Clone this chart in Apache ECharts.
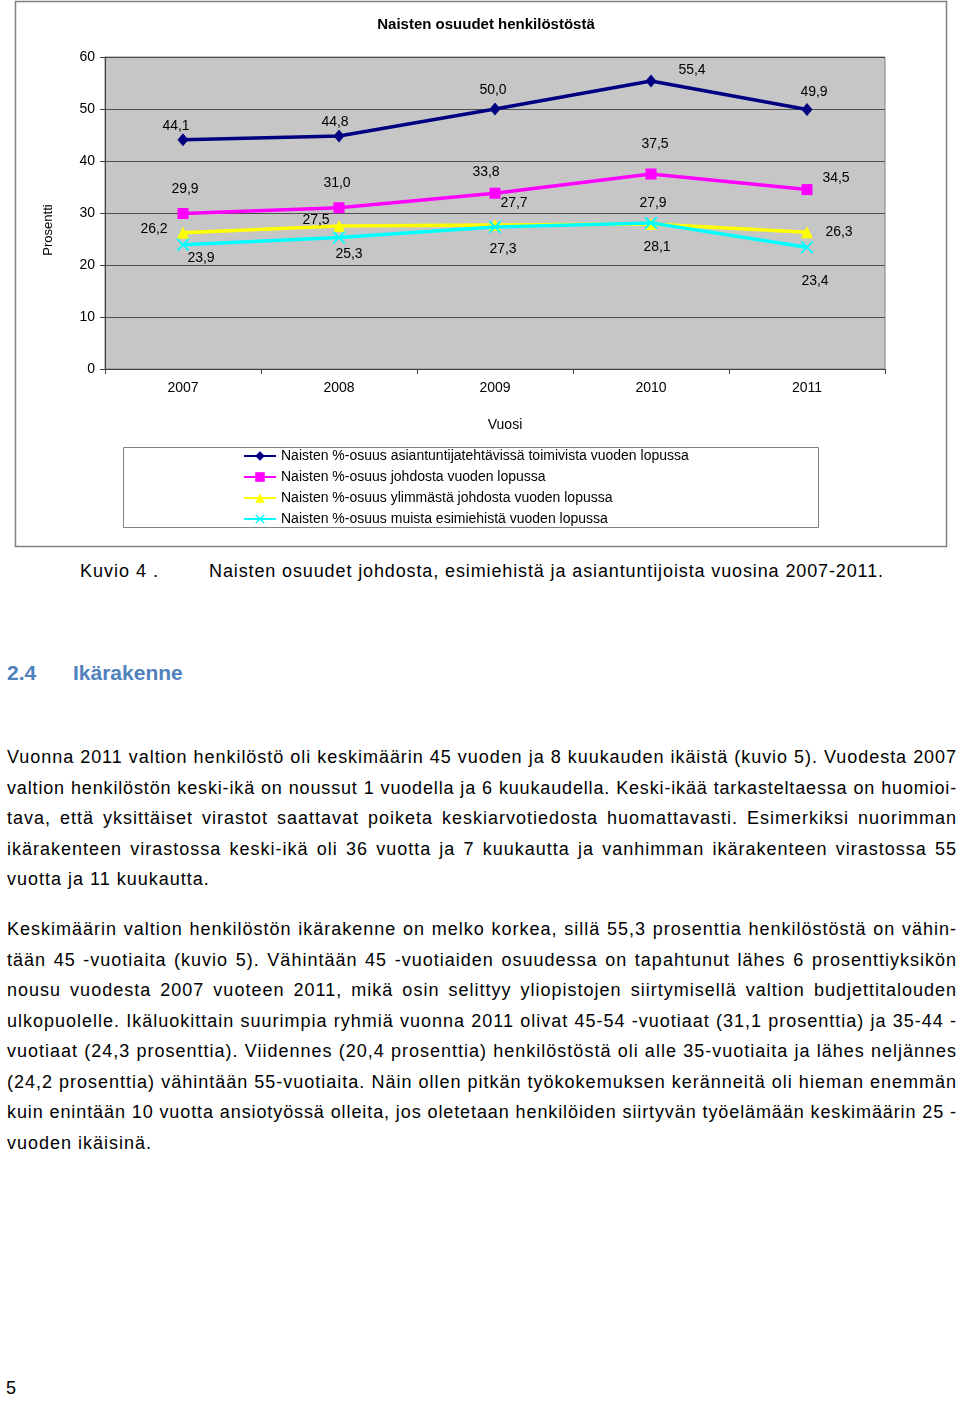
<!DOCTYPE html>
<html>
<head>
<meta charset="utf-8">
<script src="https://cdn.jsdelivr.net/npm/echarts@6/dist/echarts.min.js"></script>
<style>
  html, body { margin: 0; padding: 0; background: #fff; }
  body { width: 960px; height: 1403px; position: relative; overflow: hidden;
         font-family: "Liberation Sans", Arial, sans-serif; color: #000; }
  #chart { position: absolute; left: 0; top: 0; width: 960px; height: 550px; }
  .t { position: absolute; font-size: 18px; line-height: 30px; letter-spacing: 1px; white-space: nowrap; }
  .j { position: absolute; left: 7px; width: 950px; font-size: 18px; line-height: 30px;
       letter-spacing: 1px; text-align: justify; text-align-last: justify; }
  .h { position: absolute; font-size: 21px; font-weight: bold; color: #4F81BD; line-height: 30px; }
</style>
</head>
<body>
<div id="chart"></div>

<div class="t" style="left:80px; top:556px;">Kuvio 4 .</div>
<div class="t" style="left:209px; top:556px; letter-spacing:0.88px;">Naisten osuudet johdosta, esimiehistä ja asiantuntijoista vuosina 2007-2011.</div>

<div class="h" style="left:7px; top:658px;">2.4</div>
<div class="h" style="left:73px; top:658px;">Ikärakenne</div>

<div class="j" style="top:742px;">Vuonna 2011 valtion henkilöstö oli keskimäärin 45 vuoden ja 8 kuukauden ikäistä (kuvio 5). Vuodesta 2007</div>
<div class="j" style="top:773px;">valtion henkilöstön keski-ikä on noussut 1 vuodella ja 6 kuukaudella. Keski-ikää tarkasteltaessa on huomioi-</div>
<div class="j" style="top:803px;">tava, että yksittäiset virastot saattavat poiketa keskiarvotiedosta huomattavasti. Esimerkiksi nuorimman</div>
<div class="j" style="top:834px;">ikärakenteen virastossa keski-ikä oli 36 vuotta ja 7 kuukautta ja vanhimman ikärakenteen virastossa 55</div>
<div class="t" style="left:7px; top:864px;">vuotta ja 11 kuukautta.</div>

<div class="j" style="top:914px;">Keskimäärin valtion henkilöstön ikärakenne on melko korkea, sillä 55,3 prosenttia henkilöstöstä on vähin-</div>
<div class="j" style="top:945px;">tään 45 -vuotiaita (kuvio 5). Vähintään 45 -vuotiaiden osuudessa on tapahtunut lähes 6 prosenttiyksikön</div>
<div class="j" style="top:975px;">nousu vuodesta 2007 vuoteen 2011, mikä osin selittyy yliopistojen siirtymisellä valtion budjettitalouden</div>
<div class="j" style="top:1006px;">ulkopuolelle. Ikäluokittain suurimpia ryhmiä vuonna 2011 olivat 45-54 -vuotiaat (31,1 prosenttia) ja 35-44 -</div>
<div class="j" style="top:1036px;">vuotiaat (24,3 prosenttia). Viidennes (20,4 prosenttia) henkilöstöstä oli alle 35-vuotiaita ja lähes neljännes</div>
<div class="j" style="top:1067px;">(24,2 prosenttia) vähintään 55-vuotiaita. Näin ollen pitkän työkokemuksen keränneitä oli hieman enemmän</div>
<div class="j" style="top:1097px;">kuin enintään 10 vuotta ansiotyössä olleita, jos oletetaan henkilöiden siirtyvän työelämään keskimäärin 25 -</div>
<div class="t" style="left:7px; top:1128px;">vuoden ikäisinä.</div>

<div class="t" style="left:6px; top:1373px;">5</div>

<script>
// ---------- data ----------
const years = ['2007', '2008', '2009', '2010', '2011'];
const asiantuntijat = [44.1, 44.8, 50.0, 55.4, 49.9];
const johto = [29.9, 31.0, 33.8, 37.5, 34.5];
const ylinJohto = [26.2, 27.5, 27.7, 27.9, 26.3];
const muutEsimiehet = [23.9, 25.3, 27.3, 28.1, 23.4];
const seriesNames = [
  'Naisten %-osuus asiantuntijatehtävissä toimivista vuoden lopussa',
  'Naisten %-osuus johdosta vuoden lopussa',
  'Naisten %-osuus ylimmästä johdosta vuoden lopussa',
  'Naisten %-osuus muista esimiehistä vuoden lopussa'
];
const yMin = 0, yMax = 60, yInterval = 10;
const chartTitle = 'Naisten osuudet henkilöstöstä';
const yName = 'Prosentti';
const xName = 'Vuosi';

// ---------- label placement (style, px offsets from marker centre) ----------
const labelOffsets = [
  [[-7, -14], [-4, -14], [-2, -19], [41, -11], [7, -17]],
  [[2, -24], [-2, -25], [-9, -21], [4, -30], [29, -11]],
  [[-29, -4], [-23, -6], [19, -22], [2, -21], [32, 0]],
  [[18, 13], [10, 17], [8, 22], [6, 24], [8, 34]]
];
const colors = ['#000080', '#FF00FF', '#FFFF00', '#00FFFF'];
const xPath = 'path://M0,1L1,0L5,4L9,0L10,1L6,5L10,9L9,10L5,6L1,10L0,9L4,5Z';
const symbols = ['diamond', 'rect', 'triangle', xPath];
const symbolSizes = [[11, 13], 11, 12, 13];

const FONT = '"Liberation Sans", Arial, sans-serif';
const fmt = v => v.toFixed(1).replace('.', ',');

const allData = [asiantuntijat, johto, ylinJohto, muutEsimiehet];

const series = allData.map((vals, s) => ({
  name: seriesNames[s],
  type: 'line',
  data: vals.map((v, i) => ({ value: v, label: { offset: labelOffsets[s][i] } })),
  symbol: symbols[s],
  symbolSize: symbolSizes[s],
  showAllSymbol: true,
  color: colors[s],
  lineStyle: { color: colors[s], width: 3.5 },
  itemStyle: { color: colors[s] },
  label: {
    show: true,
    position: 'inside',
    formatter: p => fmt(p.value),
    color: '#000',
    fontSize: 14,
    fontFamily: FONT,
    align: 'center',
    verticalAlign: 'middle'
  },
  emphasis: { disabled: true },
  animation: false,
  z: 2 + s
}));

const chart = echarts.init(document.getElementById('chart'), null, { renderer: 'canvas' });
chart.setOption({
  animation: false,
  backgroundColor: '#fff',
  title: {
    text: chartTitle,
    left: 481, top: 12, textAlign: 'center',
    textStyle: { fontSize: 15, fontWeight: 'bold', fontFamily: FONT, color: '#000' }
  },
  grid: {
    left: 105, top: 57, width: 780, height: 312,
    show: true, backgroundColor: '#c6c6c6', borderColor: '#808080', borderWidth: 1
  },
  xAxis: {
    type: 'category',
    data: years,
    boundaryGap: true,
    name: xName,
    nameLocation: 'middle',
    nameGap: 49,
    nameTextStyle: { fontSize: 14, fontFamily: FONT, color: '#000', padding: [0, 0, 0, 20] },
    axisLine: { show: true, lineStyle: { color: '#404040', width: 1 } },
    axisTick: { show: true, length: 5, alignWithLabel: false, lineStyle: { color: '#404040' } },
    axisLabel: { fontSize: 14, fontFamily: FONT, color: '#000', margin: 12 },
    splitLine: { show: false }
  },
  yAxis: {
    type: 'value',
    min: yMin, max: yMax, interval: yInterval,
    name: yName,
    nameLocation: 'middle',
    nameRotate: 90,
    nameGap: 50,
    nameTextStyle: { fontSize: 13, fontFamily: FONT, color: '#000', padding: [0, 34, 0, 0] },
    axisLine: { show: true, lineStyle: { color: '#404040', width: 1 } },
    axisTick: { show: true, length: 5, lineStyle: { color: '#404040' } },
    axisLabel: { fontSize: 14, fontFamily: FONT, color: '#000', margin: 10 },
    splitLine: { show: true, lineStyle: { color: '#505050', width: 1 } }
  },
  legend: {
    orient: 'vertical',
    left: 243, top: 449,
    padding: 0,
    itemWidth: 32, itemHeight: 12, itemGap: 7,
    textStyle: { fontSize: 14, fontFamily: FONT, color: '#000' },
    data: seriesNames,
    selectedMode: false
  },
  graphic: [
    { type: 'rect', shape: { x: 15.5, y: 1.5, width: 931, height: 545 },
      style: { fill: 'none', stroke: '#808080', lineWidth: 1.5 }, z: -1, silent: true },
    { type: 'rect', shape: { x: 123.5, y: 447.5, width: 695, height: 80 },
      style: { fill: '#fff', stroke: '#808080', lineWidth: 1 }, z: -1, silent: true }
  ],
  series: series
});

// fit justified lines: reduce letter spacing if a line would wrap
document.querySelectorAll('.j').forEach(el => {
  let ls = 1.0;
  while (el.offsetHeight > 31 && ls > -1) {
    ls -= 0.05;
    el.style.letterSpacing = ls + 'px';
  }
});
</script>
</body>
</html>
